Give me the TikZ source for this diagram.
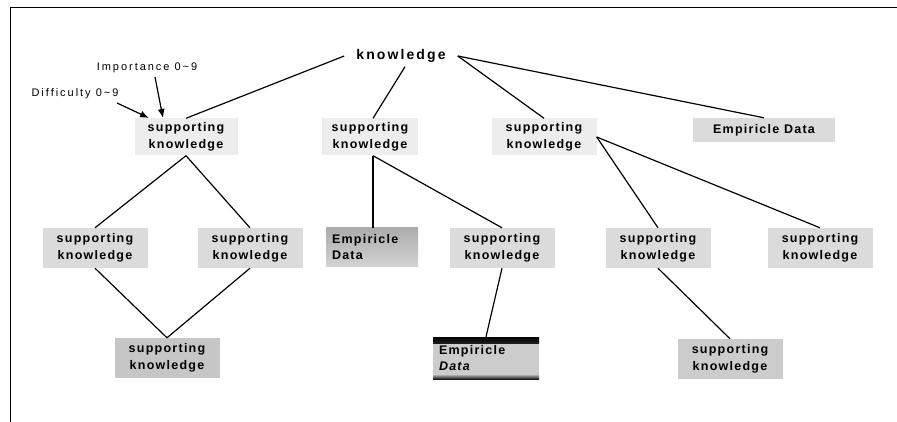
\documentclass[tikz,border=0pt]{standalone}
\usepackage{fontspec}
\setmainfont{Liberation Sans}
\newfontfamily\lblfont[LetterSpace=10]{Liberation Sans}
\newfontfamily\rootfont[LetterSpace=15]{Liberation Sans}
\newfontfamily\notefont[LetterSpace=18]{Liberation Sans}
\usetikzlibrary{arrows.meta,calc}
\begin{document}
\begin{tikzpicture}[x=1pt,y=-1pt,
  lbl/.style={font=\lblfont\bfseries\fontsize{12.5}{16.5}\selectfont},
  box/.style={lbl, inner sep=0pt, align=center, minimum width=105pt, minimum height=40pt},
  lightbox/.style={box, fill=gray!14},
  midbox/.style={box, fill=gray!28},
  darkbox/.style={box, fill=gray!45},
  edge/.style={draw=black, line width=1.2pt},
  note/.style={font=\notefont\fontsize{11}{13}\selectfont, inner sep=0pt},
  arr/.style={edge, -{Latex[length=9pt,width=7pt]}}
]
\useasboundingbox (0,0) rectangle (897,422);
% frame
\draw[line width=1pt] (10,422) -- (10,8) -- (897,8);

% root
\node[font=\rootfont\bfseries\fontsize{14}{16}\selectfont, inner xsep=12pt, inner ysep=4pt] (root) at (401,56) {knowledge};

% annotations
\node[note] (imp) at (147,68) {Importance 0\textasciitilde 9};
\node[note] (dif) at (75,94) {Difficulty 0\textasciitilde 9};

% level 1
\node[lightbox, minimum width=103pt, minimum height=37pt] (L1a) at (186,137) {supporting\\knowledge};
\node[lightbox, minimum width=96pt, minimum height=37pt] (L1b) at (370,137) {supporting\\knowledge};
\node[lightbox, minimum width=105pt, minimum height=37pt] (L1c) at (544,137) {supporting\\knowledge};
\node[midbox, minimum width=142pt, minimum height=24pt] (ED1) at (764,130) {Empiricle Data};

% level 2
\node[midbox] (L2a) at (95,248) {supporting\\knowledge};
\node[midbox] (L2b) at (250,248) {supporting\\knowledge};
\node[box, minimum width=92pt, minimum height=38pt, align=left, text width=80pt,
      top color=gray!65, bottom color=gray!35] (L2c) at (372,247) {Empiricle\\Data};
\node[midbox] (L2d) at (502,248) {supporting\\knowledge};
\node[midbox] (L2e) at (658,248) {supporting\\knowledge};
\node[midbox] (L2f) at (820,248) {supporting\\knowledge};

% level 3
\node[darkbox] (L3a) at (167,358) {supporting\\knowledge};
\node[box, minimum width=106pt, minimum height=42pt, align=left, text width=94pt,
      fill=gray!40,
      path picture={
        \shade[top color=black, bottom color=gray!40]
          (path picture bounding box.north west) rectangle ($(path picture bounding box.north east)+(0,6)$);
        \shade[top color=gray!40, bottom color=black!90]
          ($(path picture bounding box.south west)+(0,-5)$) rectangle (path picture bounding box.south east);
      }] (L3b) at (486,358) {Empiricle\\\itshape Data};
\node[box, fill=gray!40] (L3c) at (730,359) {supporting\\knowledge};

% annotation arrows
\coordinate (difStart) at (117,103);
\coordinate (difTip) at (149,118);
\coordinate (impStart) at (155,77);
\coordinate (impTip) at (163,118);
\draw[arr] (difStart) -- (difTip);
\draw[arr] (impStart) -- (impTip);

% connectors
\draw[edge] (root.west) -- (L1a.north);
\draw[edge] ($(root.south)+(4,0)$) -- ($(L1b.north)+(3,0)$);
\draw[edge] (root.east) -- (L1c.north);
\draw[edge] (root.east) -- (ED1.north);

\draw[edge] (L1a.south) -- (L2a.north);
\draw[edge] (L1a.south) -- (L2b.north);
\draw[edge] ($(L1b.south)+(3,0)$) -- ($(L2c.north)+(1,0)$);
\draw[edge] ($(L1b.south)+(3,0)$) -- (L2d.north);
\draw[edge] (L1c.east) -- (L2e.north);
\draw[edge] (L1c.east) -- (L2f.north);

\draw[edge] (L2a.south) -- (L3a.north);
\draw[edge] (L2b.south) -- (L3a.north);
\draw[edge] (L2d.south) -- (L3b.north);
\draw[edge] (L2e.south) -- (L3c.north);
\end{tikzpicture}
\end{document}
